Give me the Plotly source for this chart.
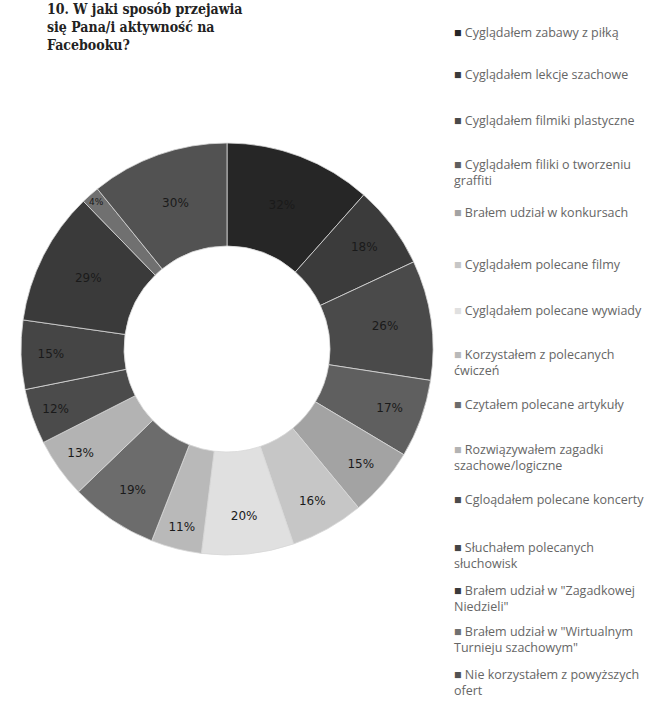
import plotly.graph_objects as go

# Survey answers (share of respondents, multiple answers allowed)
categories = [
    "Cyglądałem zabawy z piłką",
    "Cyglądałem lekcje szachowe",
    "Cyglądałem filmiki plastyczne",
    "Cyglądałem filiki o tworzeniu<br>graffiti",
    "Brałem udział w konkursach",
    "Cyglądałem polecane filmy",
    "Cyglądałem polecane wywiady",
    "Korzystałem z polecanych<br>ćwiczeń",
    "Czytałem polecane artykuły",
    "Rozwiązywałem zagadki<br>szachowe/logiczne",
    "Cgloądałem polecane koncerty",
    "Słuchałem polecanych<br>słuchowisk",
    "Brałem udział w \"Zagadkowej<br>Niedzieli\"",
    "Brałem udział w \"Wirtualnym<br>Turnieju szachowym\"",
    "Nie korzystałem z powyższych<br>ofert",
]
percent = [32, 18, 26, 17, 15, 16, 20, 11, 19, 13, 12, 15, 29, 4, 30]

colors = [
    "#262626", "#3b3b3b", "#4a4a4a", "#5f5f5f", "#a3a3a3",
    "#c6c6c6", "#e0e0e0", "#b9b9b9", "#6c6c6c", "#b3b3b3",
    "#4b4b4b", "#454545", "#3a3a3a", "#707070", "#525252",
]

W, H = 669, 709
cx, cy, r = 227, 349, 206

fig = go.Figure(go.Pie(
    labels=[c.replace("<br>", " ") for c in categories],
    values=percent,
    text=[f"{v}%" for v in percent],
    textinfo="text",
    textposition="inside",
    insidetextorientation="horizontal",
    textfont=dict(family="DejaVu Sans, Liberation Sans, sans-serif", size=12, color="#1a1a1a"),
    marker=dict(colors=colors, line=dict(color="#d8d8d8", width=0.8)),
    hole=0.5,
    sort=False,
    direction="clockwise",
    rotation=0,
    showlegend=False,
    hoverinfo="label+text",
    domain=dict(x=[(cx - r) / W, (cx + r) / W], y=[1 - (cy + r) / H, 1 - (cy - r) / H]),
))

# Legend drawn as text rows on the right
legend_top = [30, 72, 118, 162, 210, 262, 308, 352, 402, 447, 497, 545, 588, 629, 672]
for cat, col, ytop in zip(categories, colors, legend_top):
    fig.add_annotation(
        x=452 / W, y=1 - (ytop - 8) / H, xref="paper", yref="paper",
        xanchor="left", yanchor="top", align="left", showarrow=False,
        text=f"<span style='color:{col}'>■</span> {cat}",
        font=dict(family="Open Sans, Liberation Sans, sans-serif", size=12.5, color="#666666"),
    )

fig.add_annotation(
    x=45 / W, y=1 + 1 / H, xref="paper", yref="paper",
    xanchor="left", yanchor="top", align="left", showarrow=False,
    text="<b>10. W jaki sposób przejawia<br>się Pana/i aktywność na<br>Facebooku?</b>",
    font=dict(family="DejaVu Serif Condensed, DejaVu Serif, serif", size=14, color="#222222"),
)

fig.update_layout(
    width=W, height=H,
    margin=dict(l=0, r=0, t=0, b=0),
    paper_bgcolor="white", plot_bgcolor="white",
)

fig.write_html("out.html")
